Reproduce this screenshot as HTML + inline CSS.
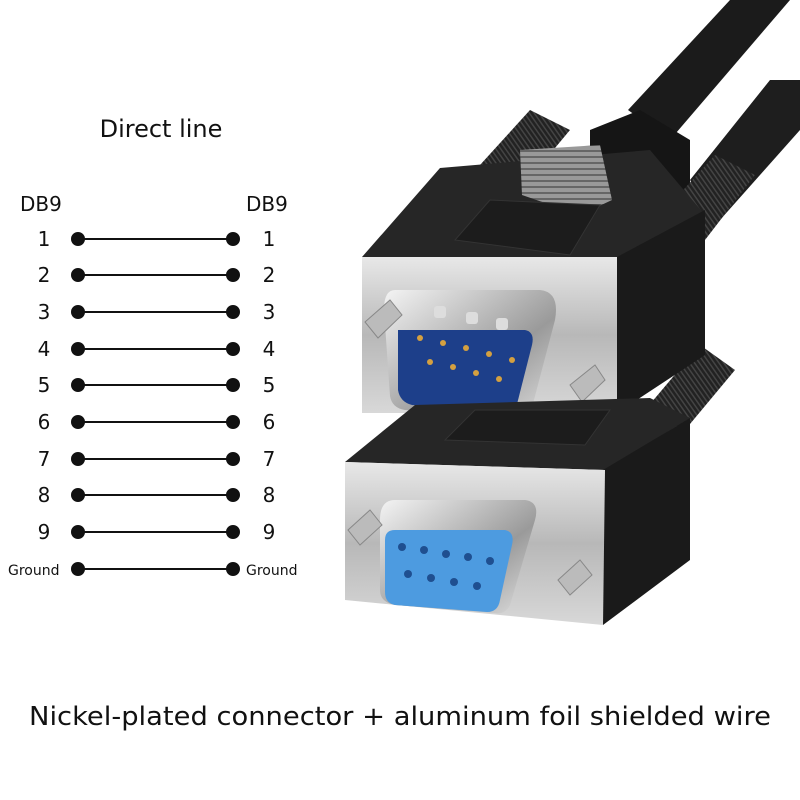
<!DOCTYPE html>
<html><head><meta charset="utf-8"><style>
html,body{margin:0;padding:0;background:#fff;}
svg{display:block;}
text{font-family:"DejaVu Sans","Liberation Sans",sans-serif;fill:#111;}
</style></head><body>
<svg width="800" height="800" viewBox="0 0 800 800" xmlns="http://www.w3.org/2000/svg">
<defs>
<linearGradient id="silver" x1="0" y1="0" x2="0" y2="1">
<stop offset="0" stop-color="#e8e8e8"/><stop offset="0.5" stop-color="#b8b8b8"/><stop offset="1" stop-color="#d8d8d8"/>
</linearGradient>
<linearGradient id="shell" x1="0" y1="0" x2="1" y2="1">
<stop offset="0" stop-color="#f4f4f4"/><stop offset="0.6" stop-color="#9a9a9a"/><stop offset="1" stop-color="#e0e0e0"/>
</linearGradient>
<pattern id="ridge" width="4" height="4" patternUnits="userSpaceOnUse" patternTransform="rotate(-35)">
<rect width="4" height="4" fill="#222"/><rect width="1.5" height="4" fill="#444"/>
</pattern>
<pattern id="grip" width="6" height="6" patternUnits="userSpaceOnUse">
<rect width="6" height="6" fill="#999"/><rect width="6" height="2" fill="#666"/>
</pattern>
</defs>

<!-- Cables -->
<polygon points="628,110 730,0 790,0 670,140" fill="#1b1b1b"/>
<polygon points="690,180 770,80 800,80 800,130 720,220" fill="#1e1e1e"/>
<!-- strain relief -->
<polygon points="590,130 640,110 690,140 690,220 640,240 590,200" fill="#151515"/>
<!-- back screws -->
<polygon points="480,165 530,110 570,130 520,190" fill="url(#ridge)"/>
<polygon points="665,210 715,155 755,175 705,240" fill="url(#ridge)"/>
<polygon points="645,410 700,345 735,370 685,430" fill="url(#ridge)"/>

<!-- Top connector body -->
<polygon points="362,257 440,168 650,150 705,215 620,257" fill="#262626"/>
<polygon points="520,150 600,145 612,200 580,215 522,195" fill="url(#grip)"/>
<polygon points="455,240 490,200 600,205 570,255" fill="#1c1c1c" stroke="#333"/>
<polygon points="617,257 705,210 705,355 617,413" fill="#1a1a1a"/>
<rect x="362" y="257" width="255" height="156" fill="url(#silver)"/>
<!-- male shell -->
<path d="M395,290 L540,290 Q560,292 555,320 L530,415 Q526,422 515,420 L405,410 Q392,408 390,396 L384,310 Q384,290 395,290 Z" fill="url(#shell)"/>
<path d="M398,330 L525,330 Q535,332 532,345 L515,412 L412,405 Q400,402 398,390 Z" fill="#1d3f8a"/>
<g fill="#d4a040">
<circle cx="420" cy="338" r="3"/><circle cx="443" cy="343" r="3"/><circle cx="466" cy="348" r="3"/><circle cx="489" cy="354" r="3"/><circle cx="512" cy="360" r="3"/>
<circle cx="430" cy="362" r="3"/><circle cx="453" cy="367" r="3"/><circle cx="476" cy="373" r="3"/><circle cx="499" cy="379" r="3"/>
</g>
<g fill="#ddd"><rect x="434" y="306" width="12" height="12" rx="3"/><rect x="466" y="312" width="12" height="12" rx="3"/><rect x="496" y="318" width="12" height="12" rx="3"/></g>
<polygon points="365,322 390,300 402,315 378,338" fill="#bbb" stroke="#888"/>
<polygon points="570,385 595,365 605,380 582,402" fill="#bbb" stroke="#888"/>

<!-- Bottom connector body -->
<polygon points="345,462 415,405 650,398 690,418 605,470" fill="#262626"/>
<polygon points="445,440 475,410 610,410 585,445" fill="#1c1c1c" stroke="#333"/>
<polygon points="603,470 690,418 690,560 603,625" fill="#1a1a1a"/>
<polygon points="345,462 605,470 603,625 345,600" fill="url(#silver)"/>
<!-- female shell -->
<path d="M395,500 L525,500 Q540,502 535,520 L510,605 Q505,615 495,613 L395,605 Q380,602 380,590 L380,520 Q380,500 395,500 Z" fill="url(#shell)"/>
<path d="M395,530 L505,530 Q515,532 512,545 L500,600 Q498,612 487,612 L395,605 Q385,603 385,592 L385,540 Q385,530 395,530 Z" fill="#4d9be0"/>
<g fill="#1f4f90">
<circle cx="402" cy="547" r="4"/><circle cx="424" cy="550" r="4"/><circle cx="446" cy="554" r="4"/><circle cx="468" cy="557" r="4"/><circle cx="490" cy="561" r="4"/>
<circle cx="408" cy="574" r="4"/><circle cx="431" cy="578" r="4"/><circle cx="454" cy="582" r="4"/><circle cx="477" cy="586" r="4"/>
</g>
<polygon points="348,530 370,510 382,525 360,545" fill="#bbb" stroke="#888"/>
<polygon points="558,580 580,560 592,575 570,595" fill="#bbb" stroke="#888"/>

<!-- Diagram -->
<text x="161" y="137" font-size="24" text-anchor="middle">Direct line</text>
<text x="20" y="211" font-size="20">DB9</text>
<text x="246" y="211" font-size="20">DB9</text>
<g font-size="20" text-anchor="middle">
<text x="44" y="246">1</text><text x="269" y="246">1</text>
<text x="44" y="282">2</text><text x="269" y="282">2</text>
<text x="44" y="319">3</text><text x="269" y="319">3</text>
<text x="44" y="356">4</text><text x="269" y="356">4</text>
<text x="44" y="392">5</text><text x="269" y="392">5</text>
<text x="44" y="429">6</text><text x="269" y="429">6</text>
<text x="44" y="466">7</text><text x="269" y="466">7</text>
<text x="44" y="502">8</text><text x="269" y="502">8</text>
<text x="44" y="539">9</text><text x="269" y="539">9</text>
</g>
<text x="8" y="575" font-size="14">Ground</text>
<text x="246" y="575" font-size="14">Ground</text>
<g stroke="#111" stroke-width="2" fill="#111">
<line x1="78" y1="239" x2="233" y2="239"/><circle cx="78" cy="239" r="6"/><circle cx="233" cy="239" r="6"/>
<line x1="78" y1="275" x2="233" y2="275"/><circle cx="78" cy="275" r="6"/><circle cx="233" cy="275" r="6"/>
<line x1="78" y1="312" x2="233" y2="312"/><circle cx="78" cy="312" r="6"/><circle cx="233" cy="312" r="6"/>
<line x1="78" y1="349" x2="233" y2="349"/><circle cx="78" cy="349" r="6"/><circle cx="233" cy="349" r="6"/>
<line x1="78" y1="385" x2="233" y2="385"/><circle cx="78" cy="385" r="6"/><circle cx="233" cy="385" r="6"/>
<line x1="78" y1="422" x2="233" y2="422"/><circle cx="78" cy="422" r="6"/><circle cx="233" cy="422" r="6"/>
<line x1="78" y1="459" x2="233" y2="459"/><circle cx="78" cy="459" r="6"/><circle cx="233" cy="459" r="6"/>
<line x1="78" y1="495" x2="233" y2="495"/><circle cx="78" cy="495" r="6"/><circle cx="233" cy="495" r="6"/>
<line x1="78" y1="532" x2="233" y2="532"/><circle cx="78" cy="532" r="6"/><circle cx="233" cy="532" r="6"/>
<line x1="78" y1="569" x2="233" y2="569"/><circle cx="78" cy="569" r="6"/><circle cx="233" cy="569" r="6"/>
</g>
<text x="400" y="725" font-size="26" text-anchor="middle" textLength="742" lengthAdjust="spacingAndGlyphs">Nickel-plated connector + aluminum foil shielded wire</text>
</svg>
</body></html>
